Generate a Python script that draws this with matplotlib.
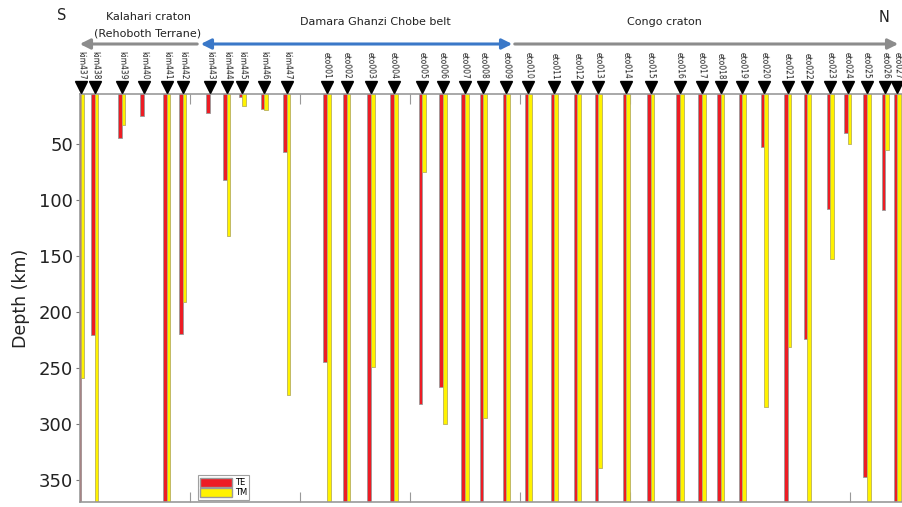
import matplotlib
matplotlib.use("Agg")
import matplotlib.pyplot as plt
from matplotlib.patches import Patch, FancyArrowPatch
from matplotlib.transforms import blended_transform_factory

# Stations along the profile (south to north)
stations = ["kim437", "kim438", "kim439", "kim440", "kim441", "kim442",
            "kim443", "kim444", "kim445", "kim446", "kim447",
            "eto001", "eto002", "eto003", "eto004", "eto005", "eto006",
            "eto007", "eto008", "eto009", "eto010", "eto011", "eto012",
            "eto013", "eto014", "eto015", "eto016", "eto017", "eto018",
            "eto019", "eto020", "eto021", "eto022", "eto023", "eto024",
            "eto025", "eto026", "eto027"]

# Distance along profile (km)
distance_km = [1.5, 27, 76, 116, 158, 187, 236, 267, 295, 335, 376,
               449, 485, 529, 571, 622, 660, 700, 733, 775, 815, 862, 904,
               942, 993, 1038, 1091, 1131, 1165, 1204, 1244, 1287, 1322,
               1364, 1396, 1431, 1464, 1486]

# Maximum penetration depth (km) for each mode; 400 = below model bottom
te_depth = [400, 221, 44, 25, 400, 220, 22, 82, 8, 18, 57,
            245, 400, 400, 400, 282, 267, 400, 400, 400, 400, 400, 400,
            400, 400, 400, 400, 400, 400, 400, 52, 400, 224, 108, 40,
            348, 109, 400]
tm_depth = [259, 400, 33, 0, 400, 191, 0, 132, 16, 19, 274,
            400, 400, 249, 400, 75, 300, 400, 295, 400, 400, 400, 400,
            340, 400, 400, 400, 400, 400, 400, 285, 231, 400, 153, 50,
            400, 55, 400]

depth_ticks = [50, 100, 150, 200, 250, 300, 350]

TE_COLOR = "#ED1C24"
TM_COLOR = "#FFF200"
EDGE = "#9a9a9a"
BAR_W = 6.5

fig = plt.figure(figsize=(9.02, 5.07), dpi=100)
W, H = 902, 507
ax = fig.add_axes([80 / W, 5 / H, 825 / W, 408 / H])

te_x = [d - BAR_W for d in distance_km]
ax.bar(te_x, te_depth, width=BAR_W, align="edge", color=TE_COLOR,
       edgecolor=EDGE, linewidth=0.6, zorder=2)
ax.bar(distance_km, tm_depth, width=BAR_W, align="edge", color=TM_COLOR,
       edgecolor="#b8b060", linewidth=0.6, zorder=2)

ax.set_xlim(0, 1500)
ax.set_ylim(370, 5)
ax.set_yticks(depth_ticks)
ax.set_xticks(range(0, 1600, 200))
ax.tick_params(axis="x", which="both", direction="in", length=7,
               top=True, bottom=True, labelbottom=False, color="#999999")
ax.tick_params(axis="y", direction="out", length=3, color="#777777",
               labelsize=13, labelcolor="#222222", pad=2)
for s in ["left", "top", "bottom"]:
    ax.spines[s].set_color("#999999")
    ax.spines[s].set_linewidth(1.2)
ax.spines["right"].set_visible(False)
ax.set_ylabel("Depth (km)", fontsize=12.5, color="#222222", labelpad=6)

# Station markers and names above the plot
trans = blended_transform_factory(ax.transData, ax.transAxes)
ax.plot(distance_km, [1.018] * len(distance_km), linestyle="none",
        marker="v", markersize=8, color="black", transform=trans,
        clip_on=False, zorder=5)
for name, d in zip(stations, distance_km):
    ax.text(d, 1.036, name, rotation=-88, ha="center", va="bottom",
            fontsize=5.5, color="#222222", transform=trans, clip_on=False)

# Tectonic domains
arrow_y = 1 - 44 / H
style = "-|>,head_length=6,head_width=3"
fig.add_artist(FancyArrowPatch(
    (200 / W, arrow_y), (77 / W, arrow_y), transform=fig.transFigure,
    arrowstyle=style, color="#8c8c8c", linewidth=2.2, mutation_scale=1))
fig.add_artist(FancyArrowPatch(
    (512 / W, arrow_y), (901 / W, arrow_y), transform=fig.transFigure,
    arrowstyle=style, color="#8c8c8c", linewidth=2.2, mutation_scale=1))
fig.add_artist(FancyArrowPatch(
    (198 / W, arrow_y), (515 / W, arrow_y), transform=fig.transFigure,
    arrowstyle="<|-|>,head_length=6,head_width=3", color="#3a78c8",
    linewidth=2.2, mutation_scale=1))

fig.text(62 / W, 1 - 16 / H, "S", fontsize=10.5, ha="center", va="center",
         color="#222222")
fig.text(884 / W, 1 - 18 / H, "N", fontsize=10.5, ha="center", va="center",
         color="#222222")
fig.text(148 / W, 1 - 17 / H, "Kalahari craton", fontsize=8, ha="center",
         va="center", color="#222222")
fig.text(148 / W, 1 - 33 / H, "(Rehoboth Terrane)", fontsize=8,
         ha="center", va="center", color="#222222")
fig.text(375 / W, 1 - 22 / H, "Damara Ghanzi Chobe belt", fontsize=8,
         ha="center", va="center", color="#222222")
fig.text(664 / W, 1 - 22 / H, "Congo craton", fontsize=8, ha="center",
         va="center", color="#222222")

handles = [Patch(facecolor=TE_COLOR, edgecolor=EDGE, label="TE"),
           Patch(facecolor=TM_COLOR, edgecolor=EDGE, label="TM")]
leg = ax.legend(handles=handles, loc="lower left",
                bbox_to_anchor=(0.143, 0.005), fontsize=6,
                handlelength=3.8, handleheight=1.3, handletextpad=0.3,
                labelspacing=0.15, borderpad=0.3, borderaxespad=0,
                frameon=True, fancybox=False, edgecolor="#888888")
leg.get_frame().set_linewidth(0.8)

fig.savefig("out.png", dpi=100, facecolor="white")
